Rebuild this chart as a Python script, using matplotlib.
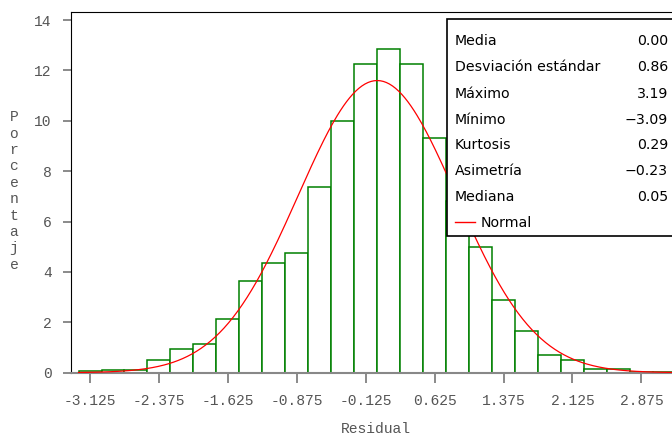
import numpy as np
import matplotlib.pyplot as plt
from matplotlib.patches import Rectangle
from matplotlib.lines import Line2D

# histogram of residuals (percent per bin, bin width 0.25)
bin_centers = [-3.125, -2.875, -2.625, -2.375, -2.125, -1.875, -1.625, -1.375,
               -1.125, -0.875, -0.625, -0.375, -0.125, 0.125, 0.375, 0.625,
               0.875, 1.125, 1.375, 1.625, 1.875, 2.125, 2.375, 2.625, 2.875, 3.125]
percent = [0.05, 0.10, 0.12, 0.50, 0.93, 1.13, 2.15, 3.63,
           4.35, 4.76, 7.39, 9.98, 12.25, 12.83, 12.27, 9.33,
           6.8, 4.98, 2.90, 1.66, 0.70, 0.49, 0.16, 0.13, 0.04, 0.04]
bin_width = 0.25

xtick_vals = [-3.125, -2.375, -1.625, -0.875, -0.125, 0.625, 1.375, 2.125, 2.875]
xtick_labels = ["-3.125", "-2.375", "-1.625", "-0.875", "-0.125", "0.625", "1.375", "2.125", "2.875"]
ytick_vals = [0, 2, 4, 6, 8, 10, 12, 14]

stat_names = ["Media", "Desviación estándar", "Máximo", "Mínimo", "Kurtosis", "Asimetría", "Mediana"]
stat_values = ["0.00", "0.86", "3.19", "\u22123.09", "0.29", "\u22120.23", "0.05"]
mean, sd = 0.00, 0.86

W, H = 672, 437
fig = plt.figure(figsize=(W / 100, H / 100), dpi=100)

def fx(px): return px / W
def fy(py): return 1 - py / H

ax = fig.add_axes([fx(71), fy(372.7), fx(672) - fx(71), fy(11.7) - fy(372.7)])

ax.bar(bin_centers, percent, width=bin_width, facecolor="white",
       edgecolor="#008000", linewidth=1.1, zorder=2)

# normal curve from the reported mean / sd, scaled to percent per bin
xs = np.linspace(-3.25, 3.4, 400)
ys = 100 * bin_width * np.exp(-0.5 * ((xs - mean) / sd) ** 2) / (sd * np.sqrt(2 * np.pi))
ax.plot(xs, ys, color="red", linewidth=0.9, zorder=3)

ax.set_xlim(-3.332, 3.208)
ax.set_ylim(0, 14.33)

mono = "Liberation Mono"
ax.set_xticks(xtick_vals)
ax.set_xticklabels(xtick_labels, fontfamily=mono, fontsize=10.5, color="#555555")
ax.set_yticks(ytick_vals)
ax.set_yticklabels([str(v) for v in ytick_vals], fontfamily=mono, fontsize=10.5, color="#555555")
ax.tick_params(axis="x", direction="out", length=7, width=1.2, color="#777777", pad=8)
ax.tick_params(axis="y", direction="out", length=6, width=1.2, color="#777777", pad=8)

ax.spines["right"].set_visible(False)
ax.spines["bottom"].set_color("#888888")
ax.spines["bottom"].set_linewidth(1.5)
ax.spines["left"].set_color("black")
ax.spines["top"].set_color("black")

fig.text(fx(376), fy(429), "Residual", fontfamily=mono, fontsize=10.5,
         color="#555555", ha="center", va="center")
fig.text(fx(14), fy(191), "\n".join("Porcentaje"), fontfamily=mono, fontsize=10.5,
         color="#555555", ha="center", va="center", linespacing=1.22)

# stats box
fig.add_artist(Rectangle((fx(447.3), fy(235.7)), fx(700) - fx(447.3), fy(19) - fy(235.7),
                         transform=fig.transFigure, facecolor="white",
                         edgecolor="black", linewidth=1.2, zorder=5))
row_y = [41, 67, 93.5, 119.5, 145, 171, 197]
lfs = 10.2
for name, val, y in zip(stat_names, stat_values, row_y):
    fig.text(fx(455), fy(y), name, fontsize=lfs, color="black", va="center", ha="left", zorder=6)
    fig.text(fx(668), fy(y), val, fontsize=lfs, color="black", va="center", ha="right", zorder=6)
fig.add_artist(Line2D([fx(455), fx(475)], [fy(222), fy(222)], transform=fig.transFigure,
                      color="red", linewidth=1, zorder=6))
fig.text(fx(481), fy(223), "Normal", fontsize=lfs, color="black", va="center", ha="left", zorder=6)

fig.savefig("out.png", dpi=100)
